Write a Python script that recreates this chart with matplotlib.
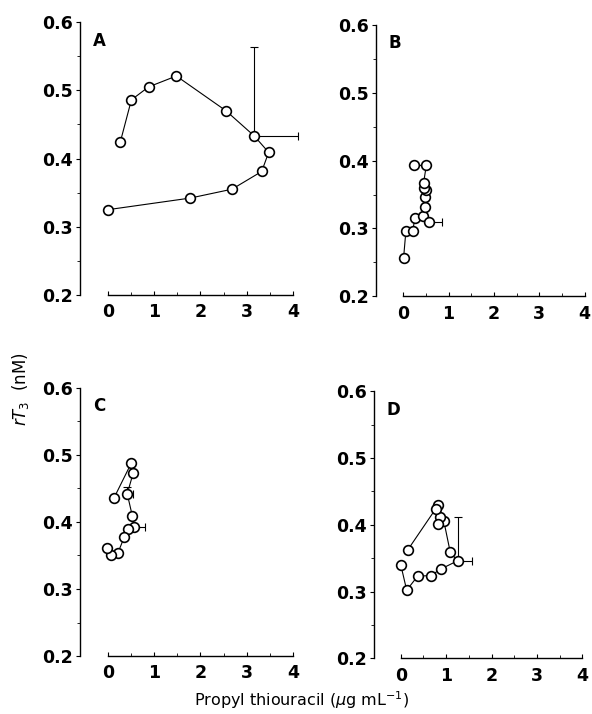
import numpy as np
import matplotlib.pyplot as plt
from matplotlib.ticker import FixedLocator, MultipleLocator

# === DATA ===
a_x = [0.27, 0.51, 0.88, 1.48, 2.55, 3.16, 3.47, 3.32, 2.68, 1.78, 0.01]
a_y = [0.424, 0.486, 0.505, 0.521, 0.470, 0.433, 0.409, 0.381, 0.355, 0.342, 0.325]

b_x = [0.01, 0.06, 0.21, 0.26, 0.43, 0.58, 0.48, 0.48, 0.50, 0.45, 0.45, 0.51, 0.25]
b_y = [0.257, 0.296, 0.296, 0.316, 0.318, 0.309, 0.332, 0.346, 0.356, 0.360, 0.367, 0.393, 0.393]

c_x = [0.13, 0.51, 0.55, 0.42, 0.53, 0.56, 0.44, 0.36, 0.22, 0.08, -0.01]
c_y = [0.435, 0.488, 0.473, 0.442, 0.409, 0.393, 0.389, 0.378, 0.354, 0.351, 0.361]

d_x = [0.00, 0.13, 0.37, 0.66, 0.89, 1.25, 1.09, 0.95, 0.86, 0.82, 0.82, 0.77, 0.15]
d_y = [0.340, 0.302, 0.323, 0.324, 0.334, 0.346, 0.359, 0.405, 0.411, 0.401, 0.429, 0.424, 0.362]

# error bars: (index of point, x err right, y err up)
a_err = (5, 0.95, 0.131)
b_err = (5, 0.27, 0.0)
c_err = (5, 0.25, 0.0)
d_err = (5, 0.32, 0.065)
c_err2 = (3, 0.12, 0.010)

panels = [
    ("A", a_x, a_y, [a_err]),
    ("B", b_x, b_y, [b_err]),
    ("C", c_x, c_y, [c_err, c_err2]),
    ("D", d_x, d_y, [d_err]),
]

positions = [
    [0.135, 0.587, 0.376, 0.382],
    [0.635, 0.585, 0.368, 0.380],
    [0.135, 0.081, 0.376, 0.376],
    [0.631, 0.078, 0.368, 0.374],
]

plt.rcParams['font.family'] = ['DejaVu Sans']

fig = plt.figure(figsize=(5.92, 7.14), dpi=100)

for (label, xs, ys, errs), pos in zip(panels, positions):
    ax = fig.add_axes(pos)
    for i, xe, ye in errs:
        ax.errorbar(xs[i], ys[i], xerr=[[0], [xe]], yerr=[[0], [ye]],
                    fmt="none", ecolor="black", elinewidth=0.8, capsize=3,
                    capthick=0.8, zorder=1)
    ax.plot(xs, ys, "-o", color="black", lw=0.8, ms=7,
            mfc="white", mec="black", mew=1.2, zorder=3)

    ax.set_xlim(-0.6, 4.2)
    ax.set_ylim(0.2, 0.6)
    ax.spines["top"].set_visible(False)
    ax.spines["right"].set_visible(False)
    ax.spines["bottom"].set_bounds(0, 4)
    ax.spines["left"].set_bounds(0.2, 0.6)
    ax.spines["bottom"].set_linewidth(1.0)
    ax.spines["left"].set_linewidth(1.0)

    ax.set_xticks([0, 1, 2, 3, 4])
    ax.set_yticks([0.2, 0.3, 0.4, 0.5, 0.6])
    ax.set_yticklabels(["0.2", "0.3", "0.4", "0.5", "0.6"])
    ax.xaxis.set_minor_locator(FixedLocator([0.5, 1.5, 2.5, 3.5]))
    ax.yaxis.set_minor_locator(MultipleLocator(0.05))
    ax.tick_params(axis="both", which="major", labelsize=12.5, length=3, width=0.8, pad=2)
    ax.tick_params(axis="both", which="minor", length=2, width=0.6)
    ax.tick_params(axis="x", which="both", direction="in", pad=6)
    for t in ax.get_xticklabels() + ax.get_yticklabels():
        t.set_fontweight("bold")

    ax.text(0.06, 0.965, label, transform=ax.transAxes, fontsize=12,
            fontweight="bold", ha="left", va="top")

fig.text(0.035, 0.455, r"$rT_3$  (nM)", rotation=90, fontsize=12,
         ha="center", va="center")
fig.text(0.51, 0.02, r"Propyl thiouracil ($\mu$g mL$^{-1}$)", fontsize=11.5,
         ha="center", va="center")

plt.savefig("out.png", dpi=100)
plt.close()
